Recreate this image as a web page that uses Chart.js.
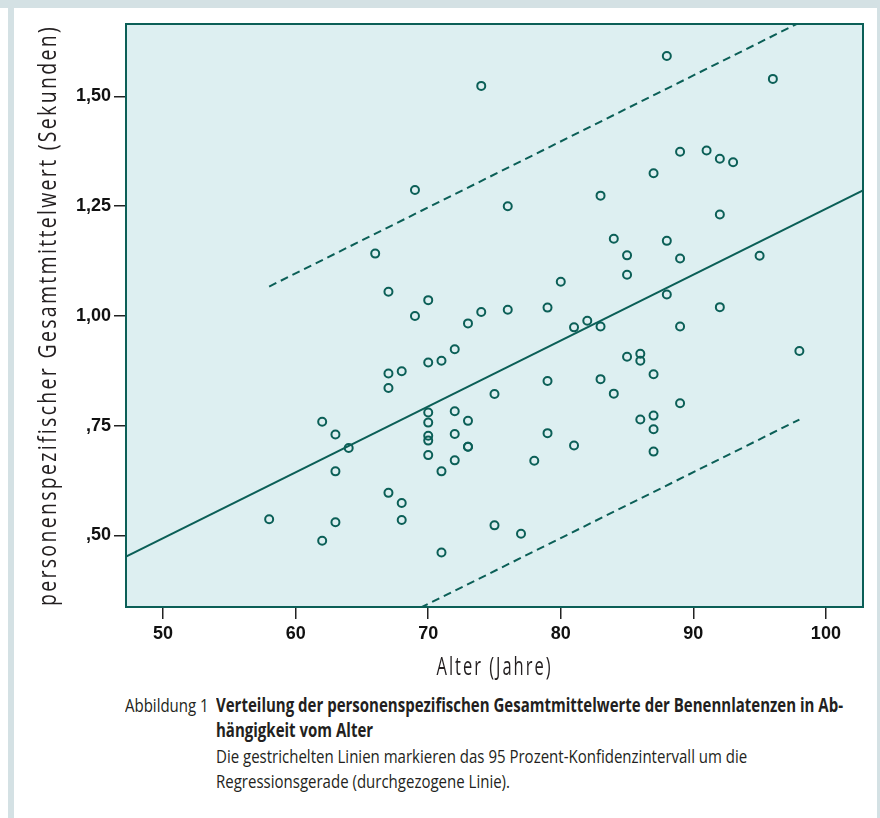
<!DOCTYPE html>
<html>
<head>
<meta charset="utf-8">
<script src="https://cdn.jsdelivr.net/npm/chart.js@4.4.1/dist/chart.umd.min.js"></script>
<style>
  html, body { margin: 0; padding: 0; background: #fff; }
  body { width: 880px; height: 818px; position: relative; overflow: hidden; font-family: "Open Sans", sans-serif; }
  .frame-top { position: absolute; left: 0; top: 0; width: 880px; height: 8px; background: #d4e1e4; }
  .frame-left { position: absolute; left: 8px; top: 0; width: 6px; height: 818px; background: #d4e1e4; }
  .frame-right { position: absolute; right: 0; top: 0; width: 3px; height: 818px; background: #d4e1e4; }
  #chart { position: absolute; left: 0; top: 0; }
  .cap { position: absolute; white-space: nowrap; font-size: 19px; line-height: 25px; color: #231f20;
         transform-origin: 0 0; transform: scaleX(0.79); }
  .cap b { font-weight: 700; }
</style>
</head>
<body>
<div class="frame-top"></div>
<div class="frame-left"></div>
<div class="frame-right"></div>
<canvas id="chart" width="880" height="690"></canvas>

<div class="cap" style="left:125px; top:693px;">Abbildung 1</div>
<div class="cap" style="left:216px; top:693px;"><b>Verteilung der personenspezifischen Gesamtmittelwerte der Benennlatenzen in Ab-</b></div>
<div class="cap" style="left:216px; top:718px;"><b>hängigkeit vom Alter</b></div>
<div class="cap" style="left:216px; top:744px;">Die gestrichelten Linien markieren das 95 Prozent-Konfidenzintervall um die</div>
<div class="cap" style="left:216px; top:769px;">Regressionsgerade (durchgezogene Linie).</div>

<script>
const ages = [
  58,
  62, 62,
  63, 63, 63,
  64,
  66,
  67, 67, 67, 67,
  68, 68, 68,
  69, 69,
  70, 70, 70, 70, 70, 70, 70,
  71, 71, 71,
  72, 72, 72, 72,
  73, 73, 73, 73,
  74, 74,
  75, 75,
  76, 76,
  77,
  78,
  79, 79, 79,
  80,
  81, 81,
  82,
  83, 83, 83,
  84, 84,
  85, 85, 85,
  86, 86, 86,
  87, 87, 87, 87, 87,
  88, 88, 88,
  89, 89, 89, 89,
  91,
  92, 92, 92,
  93,
  95,
  96,
  98
];
const latencies = [
  0.537,
  0.759, 0.488,
  0.730, 0.646, 0.530,
  0.699,
  1.142,
  1.055, 0.869, 0.836, 0.597,
  0.874, 0.574, 0.535,
  1.287, 1.000,
  1.036, 0.894, 0.780, 0.757, 0.727, 0.716, 0.683,
  0.898, 0.646, 0.461,
  0.924, 0.783, 0.731, 0.671,
  0.983, 0.761, 0.702, 0.702,
  1.524, 1.009,
  0.822, 0.523,
  1.250, 1.014,
  0.504,
  0.670,
  1.019, 0.852, 0.733,
  1.078,
  0.974, 0.705,
  0.989,
  1.274, 0.976, 0.856,
  1.176, 0.823,
  1.138, 1.094, 0.907,
  0.914, 0.898, 0.764,
  1.325, 0.867, 0.773, 0.742, 0.691,
  1.592, 1.171, 1.049,
  1.374, 1.131, 0.976, 0.801,
  1.377,
  1.358, 1.231, 1.020,
  1.350,
  1.137,
  1.540,
  0.920
];

// Regressionsgerade (Endpunkte an den Achsrändern) und 95%-Band
const fitAges = [47.2, 102.8];
const fitValues = [0.452, 1.286];
const bandAges = [58, 98];
const upperValues = [1.067, 1.668];
const lowerValues = [0.164, 0.764];

const xTicks = [50, 60, 70, 80, 90, 100];
const yTicks = [0.5, 0.75, 1.0, 1.25, 1.5];
const yTickLabels = [',50', ',75', '1,00', '1,25', '1,50'];

const xTitle = 'Alter (Jahre)';
const yTitle = 'personenspezifischer Gesamtmittelwert (Sekunden)';

const teal = '#0b5f57';
const plotBg = '#ddeff1';

function toPoints(xs, ys) {
  return xs.map((x, i) => ({ x: x, y: ys[i] }));
}

const plotFrame = {
  id: 'plotFrame',
  beforeDraw(chart) {
    const { ctx, chartArea: a } = chart;
    ctx.save();
    ctx.fillStyle = plotBg;
    ctx.fillRect(a.left, a.top, a.right - a.left, a.bottom - a.top);
    ctx.restore();
  },
  beforeDatasetsDraw(chart) {
    const { ctx, chartArea: a } = chart;
    ctx.save();
    ctx.strokeStyle = teal;
    ctx.lineWidth = 2;
    ctx.strokeRect(a.left, a.top, a.right - a.left, a.bottom - a.top);
    ctx.restore();
  }
};

function drawSpaced(ctx, text, x, y, angle, width) {
  ctx.save();
  ctx.font = '25px "Open Sans"';
  ctx.letterSpacing = '3px';
  const w = ctx.measureText(text).width;
  ctx.translate(x, y);
  ctx.rotate(angle);
  ctx.scale(width / w, 1);
  ctx.fillStyle = '#231f20';
  ctx.textAlign = 'center';
  ctx.textBaseline = 'alphabetic';
  ctx.fillText(text, 0, 0);
  ctx.restore();
}

const axisTitles = {
  id: 'axisTitles',
  afterDraw(chart) {
    const { ctx, chartArea: a } = chart;
    drawSpaced(ctx, xTitle, (a.left + a.right) / 2, 675, 0, 116);
    drawSpaced(ctx, yTitle, 56, (a.top + a.bottom) / 2, -Math.PI / 2, 581);
  }
};

const tickFont = { family: '"Liberation Sans", Arial, sans-serif', weight: 'bold', size: 18 };

const config = {
  type: 'scatter',
  data: {
    datasets: [
      {
        data: toPoints(ages, latencies),
        showLine: false,
        pointRadius: 4,
        pointBorderWidth: 2,
        pointBorderColor: teal,
        pointBackgroundColor: 'rgba(0,0,0,0)'
      },
      {
        data: toPoints(fitAges, fitValues),
        showLine: true,
        pointRadius: 0,
        borderColor: teal,
        borderWidth: 2,
        clip: 0
      },
      {
        data: toPoints(bandAges, upperValues),
        showLine: true,
        pointRadius: 0,
        borderColor: teal,
        borderWidth: 2,
        borderDash: [8, 5],
        clip: 0
      },
      {
        data: toPoints(bandAges, lowerValues),
        showLine: true,
        pointRadius: 0,
        borderColor: teal,
        borderWidth: 2,
        borderDash: [8, 5],
        clip: 0
      }
    ]
  },
  options: {
    responsive: false,
    animation: false,
    events: [],
    layout: { autoPadding: false, padding: { left: 0, top: 24, right: 17, bottom: 0 } },
    plugins: { legend: { display: false }, tooltip: { enabled: false } },
    scales: {
      x: {
        type: 'linear',
        position: 'bottom',
        min: 47.2,
        max: 102.8,
        afterBuildTicks: (s) => { s.ticks = xTicks.map((v) => ({ value: v })); },
        afterFit: (s) => { s.height = 83; },
        border: { display: false },
        grid: { drawOnChartArea: false, drawTicks: true, tickLength: 12, color: '#222', lineWidth: 1.5 },
        ticks: { font: tickFont, color: '#111', padding: 4, maxRotation: 0 }
      },
      y: {
        type: 'linear',
        position: 'left',
        min: 0.337,
        max: 1.665,
        afterBuildTicks: (s) => { s.ticks = yTicks.map((v) => ({ value: v })); },
        afterFit: (s) => { s.width = 126; },
        border: { display: false },
        grid: { drawOnChartArea: false, drawTicks: true, tickLength: 12, color: '#222', lineWidth: 1.5 },
        ticks: {
          font: tickFont,
          color: '#111',
          padding: 3,
          callback: (value) => yTickLabels[yTicks.indexOf(value)]
        }
      }
    }
  },
  plugins: [plotFrame, axisTitles]
};

new Chart(document.getElementById('chart'), config);
</script>
</body>
</html>
